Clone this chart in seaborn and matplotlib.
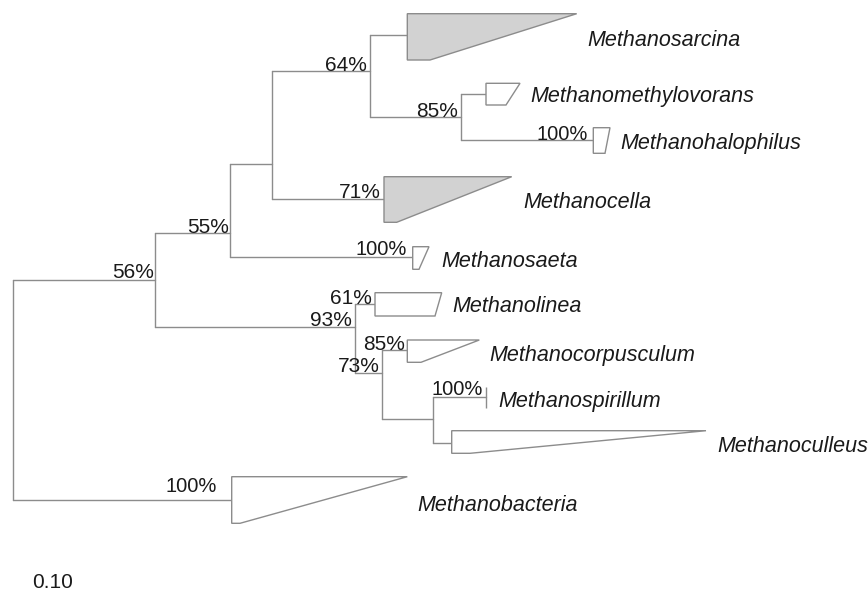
import matplotlib
matplotlib.use("Agg")
import matplotlib.pyplot as plt
import seaborn as sns
import pandas as pd

sns.set_theme(style="white")
plt.rcParams["font.family"] = ["Liberation Sans", "DejaVu Sans"]

# Internal nodes: depth along the tree, row of the node, rows of its two children
node_names = ["root", "n56", "n55", "nA", "n64", "n85a", "n93", "n73", "nB"]
node_depth = [13.3, 155.0, 230.0, 271.7, 370.0, 461.0, 355.0, 382.3, 432.5]
node_row = [280.0, 280.0, 233.0, 163.7, 70.7, 117.3, 326.7, 373.3, 419.3]
node_child_top = [280.0, 233.0, 163.7, 70.7, 34.7, 94.3, 304.3, 350.0, 396.7]
node_child_bot = [500.0, 326.7, 256.7, 199.3, 117.3, 140.0, 373.3, 419.3, 442.7]
node_parent = [None, "root", "n56", "n55", "nA", "n64", "n56", "n93", "n73"]

# Collapsed clades
clade_names = ["Methanosarcina", "Methanomethylovorans", "Methanohalophilus",
               "Methanocella", "Methanosaeta", "Methanolinea",
               "Methanocorpusculum", "Methanospirillum", "Methanoculleus",
               "Methanobacteria"]
clade_parent = ["n64", "n85a", "n85a", "nA", "n55", "n93", "n73", "nB", "nB", "root"]
clade_row = [34.7, 94.3, 140.0, 199.3, 256.7, 304.3, 350.0, 396.7, 442.7, 500.0]
clade_depth = [407.3, 486.0, 593.3, 384.0, 412.7, 375.0, 407.3, 486.0, 451.7, 231.7]
clade_top = [13.7, 83.3, 127.7, 176.7, 246.7, 292.7, 340.0, 386.7, 430.7, 476.7]
clade_bottom = [60.0, 105.0, 153.3, 222.3, 269.3, 316.0, 362.3, 408.3, 453.3, 523.3]
clade_tip_top = [576.7, 520.0, 610.0, 511.7, 429.0, 441.7, 479.3, 486.0, 706.0, 407.3]
clade_tip_bot = [430.0, 506.0, 605.0, 396.7, 419.0, 435.0, 421.0, 486.0, 470.0, 240.0]
clade_shaded = [True, False, False, True, False, False, False, False, False, False]
clade_label_x = [587, 530, 620, 523, 441, 452, 489, 498, 717, 417]
clade_label_y = [45.7, 102.3, 149, 208.3, 267.3, 312.3, 360.7, 406.7, 451.7, 510.7]

# Bootstrap supports: text, anchor (right edge, baseline)
boot_text = ["56%", "55%", "64%", "85%", "100%", "71%", "100%",
             "61%", "93%", "85%", "73%", "100%", "100%"]
boot_x = [154, 229, 367, 458, 588, 381, 407, 372, 352, 405, 380, 483, 217]
boot_y = [278.3, 233, 70.7, 117.3, 140, 198.3, 255, 304, 326, 350, 371.7, 395, 492]

scale_label = "0.10"

line_color = "#8c8c8c"
text_color = "#1a1a1a"

depth = dict(zip(node_names, node_depth))

# Build branch segments
rows = []
seg = 0
for name, d, top, bot, par, r in zip(node_names, node_depth, node_child_top,
                                     node_child_bot, node_parent, node_row):
    rows += [(seg, d, top), (seg, d, bot)]
    seg += 1
    if par is not None:
        rows += [(seg, depth[par], r), (seg, d, r)]
        seg += 1
for par, r, d in zip(clade_parent, clade_row, clade_depth):
    rows += [(seg, depth[par], r), (seg, d, r)]
    seg += 1
segs = pd.DataFrame(rows, columns=["seg", "x", "y"])

fig = plt.figure(figsize=(8.68, 5.91), dpi=100)
ax = fig.add_axes([0, 0, 1, 1])
sns.lineplot(data=segs, x="x", y="y", units="seg", estimator=None, sort=False,
             color=line_color, lw=1.0, ax=ax, legend=False)

for name, d, t, b, tt, tb, sh, lx, ly in zip(clade_names, clade_depth, clade_top,
                                             clade_bottom, clade_tip_top, clade_tip_bot,
                                             clade_shaded, clade_label_x, clade_label_y):
    xs = [d, tt, tb, d]
    ys = [t, t, b, b]
    ax.fill(xs, ys, facecolor="#d2d2d2" if sh else "white",
            edgecolor=line_color, lw=1.0, zorder=3)
    ax.text(lx, ly, name, style="italic", fontsize=15.5, color=text_color,
            ha="left", va="baseline")

for t, x, y in zip(boot_text, boot_x, boot_y):
    ax.text(x, y, t, fontsize=15 if t != "100%" else 14.5, color=text_color,
            ha="right", va="baseline", zorder=4)

ax.text(32, 588, scale_label, fontsize=15, color=text_color, ha="left", va="baseline")

ax.set_xlim(0, 868)
ax.set_ylim(591, 0)
ax.axis("off")
fig.savefig("out.png", dpi=100)
